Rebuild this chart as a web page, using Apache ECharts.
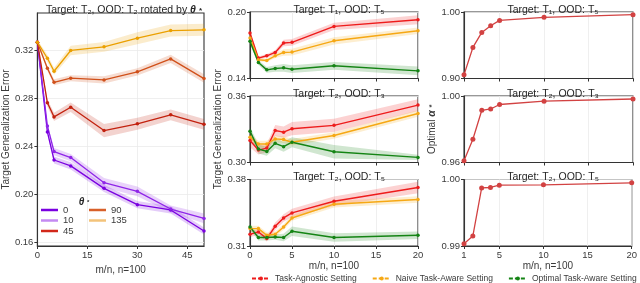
<!DOCTYPE html>
<html><head><meta charset="utf-8">
<script src="https://cdn.jsdelivr.net/npm/echarts@6/dist/echarts.min.js"></script>
<style>html,body{margin:0;padding:0;background:#fff}#c{width:640px;height:283px}</style>
</head><body><div id="c"></div>
<script>
// ---------- data ----------
const xLeft = [0, 3, 5, 10, 20, 30, 40, 50];
const theta0   = [0.3267, 0.252, 0.2286, 0.2237, 0.205, 0.1914, 0.187, 0.1695];
const theta10  = [0.3267, 0.257, 0.2356, 0.2306, 0.2097, 0.2025, 0.1878, 0.180];
const theta45  = [0.3267, 0.2762, 0.2645, 0.2725, 0.2531, 0.2587, 0.2662, 0.2583];
const theta90  = [0.3267, 0.305, 0.2933, 0.2967, 0.2953, 0.302, 0.3128, 0.2964];
const theta135 = [0.3267, 0.3133, 0.3025, 0.3198, 0.3228, 0.330, 0.3364, 0.337];
const band0   = [0.001, 0.002, 0.003, 0.003, 0.003, 0.003, 0.003, 0.003];
const band10  = [0.001, 0.002, 0.003, 0.003, 0.004, 0.004, 0.003, 0.004];
const band45  = [0.001, 0.003, 0.0035, 0.004, 0.0055, 0.005, 0.0045, 0.0045];
const band90  = [0.001, 0.002, 0.0025, 0.0025, 0.003, 0.003, 0.0035, 0.0035];
const band135 = [0.002, 0.003, 0.003, 0.004, 0.004, 0.005, 0.005, 0.005];
const thetaNames = ['0', '10', '45', '90', '135'];

const xMid = [0, 1, 2, 3, 4, 5, 10, 20];
// panel 1: Target T1, OOD T5
const p1Agnostic = [0.181, 0.1584, 0.1605, 0.1635, 0.172, 0.1726, 0.187, 0.193];
const p1Naive    = [0.1765, 0.1569, 0.1563, 0.1605, 0.1635, 0.1638, 0.174, 0.1831];
const p1Optimal  = [0.1735, 0.1545, 0.1478, 0.149, 0.1496, 0.1484, 0.1515, 0.1469];
const p1AgnBand  = [0.002, 0.0015, 0.0015, 0.002, 0.003, 0.003, 0.0033, 0.004];
const p1NaiBand  = [0.002, 0.0015, 0.0015, 0.002, 0.003, 0.003, 0.0033, 0.003];
const p1OptBand  = [0.002, 0.002, 0.0025, 0.003, 0.0035, 0.0035, 0.0035, 0.004];
// panel 2: Target T2, OOD T3
const p2Agnostic = [0.3198, 0.3112, 0.313, 0.3289, 0.3274, 0.3305, 0.3335, 0.3518];
const p2Naive    = [0.3228, 0.3167, 0.3167, 0.3213, 0.3207, 0.3183, 0.3244, 0.3442];
const p2Optimal  = [0.3283, 0.3122, 0.31, 0.3173, 0.3143, 0.3183, 0.3097, 0.3046];
const p2AgnBand  = [0.006, 0.004, 0.004, 0.005, 0.005, 0.006, 0.006, 0.0053];
const p2NaiBand  = [0.003, 0.003, 0.003, 0.003, 0.003, 0.003, 0.003, 0.003];
const p2OptBand  = [0.004, 0.004, 0.004, 0.0045, 0.0045, 0.0045, 0.006, 0.0023];
// panel 3: Target T2, OOD T5
const p3Agnostic = [0.3223, 0.3248, 0.3178, 0.3308, 0.3395, 0.3448, 0.3571, 0.3716];
const p3Naive    = [0.3283, 0.3283, 0.3213, 0.3223, 0.33, 0.3395, 0.354, 0.3589];
const p3Optimal  = [0.33, 0.3189, 0.3189, 0.3195, 0.3189, 0.3255, 0.3189, 0.3213];
const p3AgnBand  = [0.003, 0.003, 0.003, 0.004, 0.004, 0.0045, 0.005, 0.006];
const p3NaiBand  = [0.003, 0.003, 0.003, 0.003, 0.003, 0.003, 0.0035, 0.0035];
const p3OptBand  = [0.003, 0.003, 0.003, 0.003, 0.004, 0.005, 0.0045, 0.004];

const xRight = [1, 2, 3, 4, 5, 10, 20];
const alpha1 = [0.9055, 0.9467, 0.9693, 0.9794, 0.9874, 0.992, 0.996];
const alpha2 = [0.961, 0.974, 0.9914, 0.9922, 0.9949, 0.9969, 0.9982];
const alpha3 = [0.99035, 0.9915, 0.99874, 0.9988, 0.99915, 0.9992, 0.9995];

const leftYTicks = [0.16, 0.20, 0.24, 0.28, 0.32];
const leftXTicks = [0, 15, 30, 45];
const midXTicks = [0, 5, 10, 15, 20];
const rightXTicks = [1, 5, 10, 15, 20];
const midYRanges = [[0.14, 0.20], [0.30, 0.36], [0.31, 0.38]];
const rightYRanges = [[0.90, 1.00], [0.96, 1.00], [0.99, 1.00]];
const settingNames = ['Task-Agnostic Setting', 'Naive Task-Aware Setting', 'Optimal Task-Aware Setting'];
const panelTitles = ['Target: T\u2081, OOD: T\u2085', 'Target: T\u2082, OOD: T\u2083', 'Target: T\u2082, OOD: T\u2085'];

// ---------- styling ----------
const FONT = 'Liberation Sans, Arial, sans-serif';
const TXT = '#3a3a3a';
const thetaColors = ['#7a00e0', '#8f25e8', '#c2210e', '#d0501a', '#eba000'];
const thetaLegendColors = ['#7a00e0', '#c48af2', '#d2281a', '#d8602a', '#f3c37a'];
const setColors = ['#ee1c1c', '#f6a814', '#148414'];
const alphaColor = '#d24242';

const chart = echarts.init(document.getElementById('c'), null, {renderer: 'canvas'});

const grids = [], xAxes = [], yAxes = [], series = [], titles = [];
function addGrid(left, top, width, height) {
  grids.push({left, top, width, height, show: true, borderColor: '#333', borderWidth: 1.1, containLabel: false});
  return grids.length - 1;
}
function axisCommon() {
  return {
    axisLine: {show: true, lineStyle: {color: '#333', width: 1.1}},
    axisTick: {show: true, length: 3, lineStyle: {color: '#333'}},
    axisLabel: {fontFamily: FONT, fontSize: 9.5, color: TXT, margin: 4},
    splitLine: {show: true, lineStyle: {color: '#ebebeb', width: 0.8}},
    nameTextStyle: {fontFamily: FONT, fontSize: 10, color: TXT}
  };
}
function pairs(xs, ys) { return xs.map((x, i) => [x, ys[i]]); }
function addBand(gi, xs, ys, hw, color) {
  const lo = xs.map((x, i) => [x, ys[i] - hw[i]]);
  const hi = xs.map((x, i) => [x, ys[i] + hw[i]]);
  series.push({type: 'custom', xAxisIndex: gi, yAxisIndex: gi, silent: true, z: 1,
    data: xs.map((x, i) => [x, ys[i] - hw[i], ys[i] + hw[i]]),
    encode: {x: 0, y: [1, 2]},
    renderItem: function (params, api) {
      if (params.dataIndex !== 0) return null;
      const pts = hi.map(p => api.coord(p)).concat(lo.slice().reverse().map(p => api.coord(p)));
      return {type: 'polygon', shape: {points: pts}, style: {fill: color, opacity: 0.2}};
    }
  });
}
function addLine(gi, name, xs, ys, color, size, width) {
  series.push({type: 'line', name, xAxisIndex: gi, yAxisIndex: gi, data: pairs(xs, ys),
    symbol: 'circle', symbolSize: size, color: color,
    lineStyle: {color: color, width: width}, itemStyle: {color: color}, z: 3});
}

// ----- left panel -----
const gL = addGrid(34, 13, 170, 233);
xAxes.push(Object.assign(axisCommon(), {type: 'value', gridIndex: gL, min: 0, max: 50,
  axisLabel: Object.assign(axisCommon().axisLabel, {customValues: leftXTicks}),
  axisTick: Object.assign(axisCommon().axisTick, {customValues: leftXTicks}),
  name: 'm/n, n=100', nameLocation: 'middle', nameGap: 15}));
yAxes.push(Object.assign(axisCommon(), {type: 'value', gridIndex: gL, min: 0.157, max: 0.351,
  axisLabel: Object.assign(axisCommon().axisLabel, {customValues: leftYTicks, formatter: v => v.toFixed(2)}),
  axisTick: Object.assign(axisCommon().axisTick, {customValues: leftYTicks}),
  name: 'Target Generalization Error', nameLocation: 'middle', nameGap: 20}));
const thetaData = [theta0, theta10, theta45, theta90, theta135];
const thetaBands = [band0, band10, band45, band90, band135];
thetaData.forEach((d, i) => addBand(gL, xLeft, d, thetaBands[i], thetaColors[i]));
thetaData.forEach((d, i) => addLine(gL, thetaNames[i], xLeft, d, thetaColors[i], 3.5, 1.3));

// ----- middle panels -----
const midTops = [12, 96, 179.5];
const midData = [[p1Agnostic, p1Naive, p1Optimal], [p2Agnostic, p2Naive, p2Optimal], [p3Agnostic, p3Naive, p3Optimal]];
const midBands = [[p1AgnBand, p1NaiBand, p1OptBand], [p2AgnBand, p2NaiBand, p2OptBand], [p3AgnBand, p3NaiBand, p3OptBand]];
midTops.forEach((top, p) => {
  const g = addGrid(250, top, 168, 66.5);
  const last = p === 2;
  xAxes.push(Object.assign(axisCommon(), {type: 'value', gridIndex: g, min: 0, max: 20, interval: 5,
    axisLabel: Object.assign(axisCommon().axisLabel, {show: last}),
    name: last ? 'm/n, n=100' : '', nameLocation: 'middle', nameGap: 15}));
  yAxes.push(Object.assign(axisCommon(), {type: 'value', gridIndex: g, min: midYRanges[p][0], max: midYRanges[p][1],
    axisLabel: Object.assign(axisCommon().axisLabel, {customValues: midYRanges[p], formatter: v => v.toFixed(2)}),
    axisTick: Object.assign(axisCommon().axisTick, {customValues: midYRanges[p]}),
    name: p === 1 ? 'Target Generalization Error' : '', nameLocation: 'middle', nameGap: 20}));
  midData[p].forEach((d, s) => addBand(g, xMid, d, midBands[p][s], setColors[s]));
  midData[p].forEach((d, s) => addLine(g, settingNames[s], xMid, d, setColors[s], 3.5, 1.4));
  titles.push({text: panelTitles[p], left: 334, top: top - 12.5, textAlign: 'center',
    textStyle: {fontFamily: FONT, fontSize: 10.5, fontWeight: 'normal', color: '#262626'}});
});

// ----- right panels -----
const alphaData = [alpha1, alpha2, alpha3];
midTops.forEach((top, p) => {
  const g = addGrid(464, top, 169, 66.5);
  const last = p === 2;
  xAxes.push(Object.assign(axisCommon(), {type: 'value', gridIndex: g, min: 1, max: 20,
    axisLabel: Object.assign(axisCommon().axisLabel, {show: last, customValues: rightXTicks}),
    axisTick: Object.assign(axisCommon().axisTick, {customValues: rightXTicks}),
    name: last ? 'm/n, n=100' : '', nameLocation: 'middle', nameGap: 15}));
  yAxes.push(Object.assign(axisCommon(), {type: 'value', gridIndex: g, min: rightYRanges[p][0], max: rightYRanges[p][1],
    axisLabel: Object.assign(axisCommon().axisLabel, {customValues: rightYRanges[p], formatter: v => v.toFixed(2)}),
    axisTick: Object.assign(axisCommon().axisTick, {customValues: rightYRanges[p]}),
    name: p === 1 ? 'Optimal {a|\u03b1} {s|*}' : '', nameLocation: 'middle', nameGap: 21,
    nameTextStyle: {fontFamily: FONT, fontSize: 10, color: TXT,
      rich: {a: {fontFamily: FONT, fontSize: 10.5, fontStyle: 'italic', fontWeight: 'bold', color: TXT},
             s: {fontFamily: FONT, fontSize: 8, fontWeight: 'bold', color: TXT}}}}));
  addLine(g, 'alpha' + p, xRight, alphaData[p], alphaColor, 5, 1.3);
  titles.push({text: panelTitles[p], left: 548, top: top - 12.5, textAlign: 'center',
    textStyle: {fontFamily: FONT, fontSize: 10.5, fontWeight: 'normal', color: '#262626'}});
});

titles.push({text: 'Target: T\u2082, OOD: T\u2082 rotated by {t|\u03b8} {s|*}', left: 119, top: 0, textAlign: 'center',
  textStyle: {fontFamily: FONT, fontSize: 10.5, fontWeight: 'normal', color: '#262626',
    rich: {t: {fontFamily: FONT, fontSize: 10.5, fontStyle: 'italic', fontWeight: 'bold', color: '#262626'},
           s: {fontFamily: FONT, fontSize: 8, fontWeight: 'bold', color: '#262626'}}}});
titles.push({text: '{t|\u03b8} {s|*}', left: 79, top: 192, textAlign: 'center',
  textStyle: {fontFamily: FONT, fontSize: 10, color: '#262626',
    rich: {t: {fontFamily: FONT, fontSize: 10, fontStyle: 'italic', color: '#262626'},
           s: {fontFamily: FONT, fontSize: 6, color: '#262626'}}}});

const legendText = {fontFamily: FONT, fontSize: 9.5, color: TXT};
const legends = [
  {orient: 'vertical', left: 41, top: 205, itemWidth: 17, itemHeight: 2.5, itemGap: 0.5, icon: 'rect', padding: 0,
   data: [0, 1, 2].map(i => ({name: thetaNames[i], itemStyle: {color: thetaLegendColors[i]}})),
   textStyle: legendText, selectedMode: false},
  {orient: 'vertical', left: 89, top: 205, itemWidth: 17, itemHeight: 2.5, itemGap: 0.5, icon: 'rect', padding: 0,
   data: [3, 4].map(i => ({name: thetaNames[i], itemStyle: {color: thetaLegendColors[i]}})),
   textStyle: legendText, selectedMode: false},
  {orient: 'horizontal', left: 251, top: 274, width: 390, itemWidth: 18, itemHeight: 5, itemGap: 15, padding: 0,
   lineStyle: {type: [4, 2]},
   data: settingNames.map(n => ({name: n})), textStyle: {fontFamily: FONT, fontSize: 8.5, color: TXT}, selectedMode: false}
];

chart.setOption({
  animation: false,
  title: titles,
  grid: grids,
  xAxis: xAxes,
  yAxis: yAxes,
  legend: legends,
  series: series
});
</script>
</body></html>
